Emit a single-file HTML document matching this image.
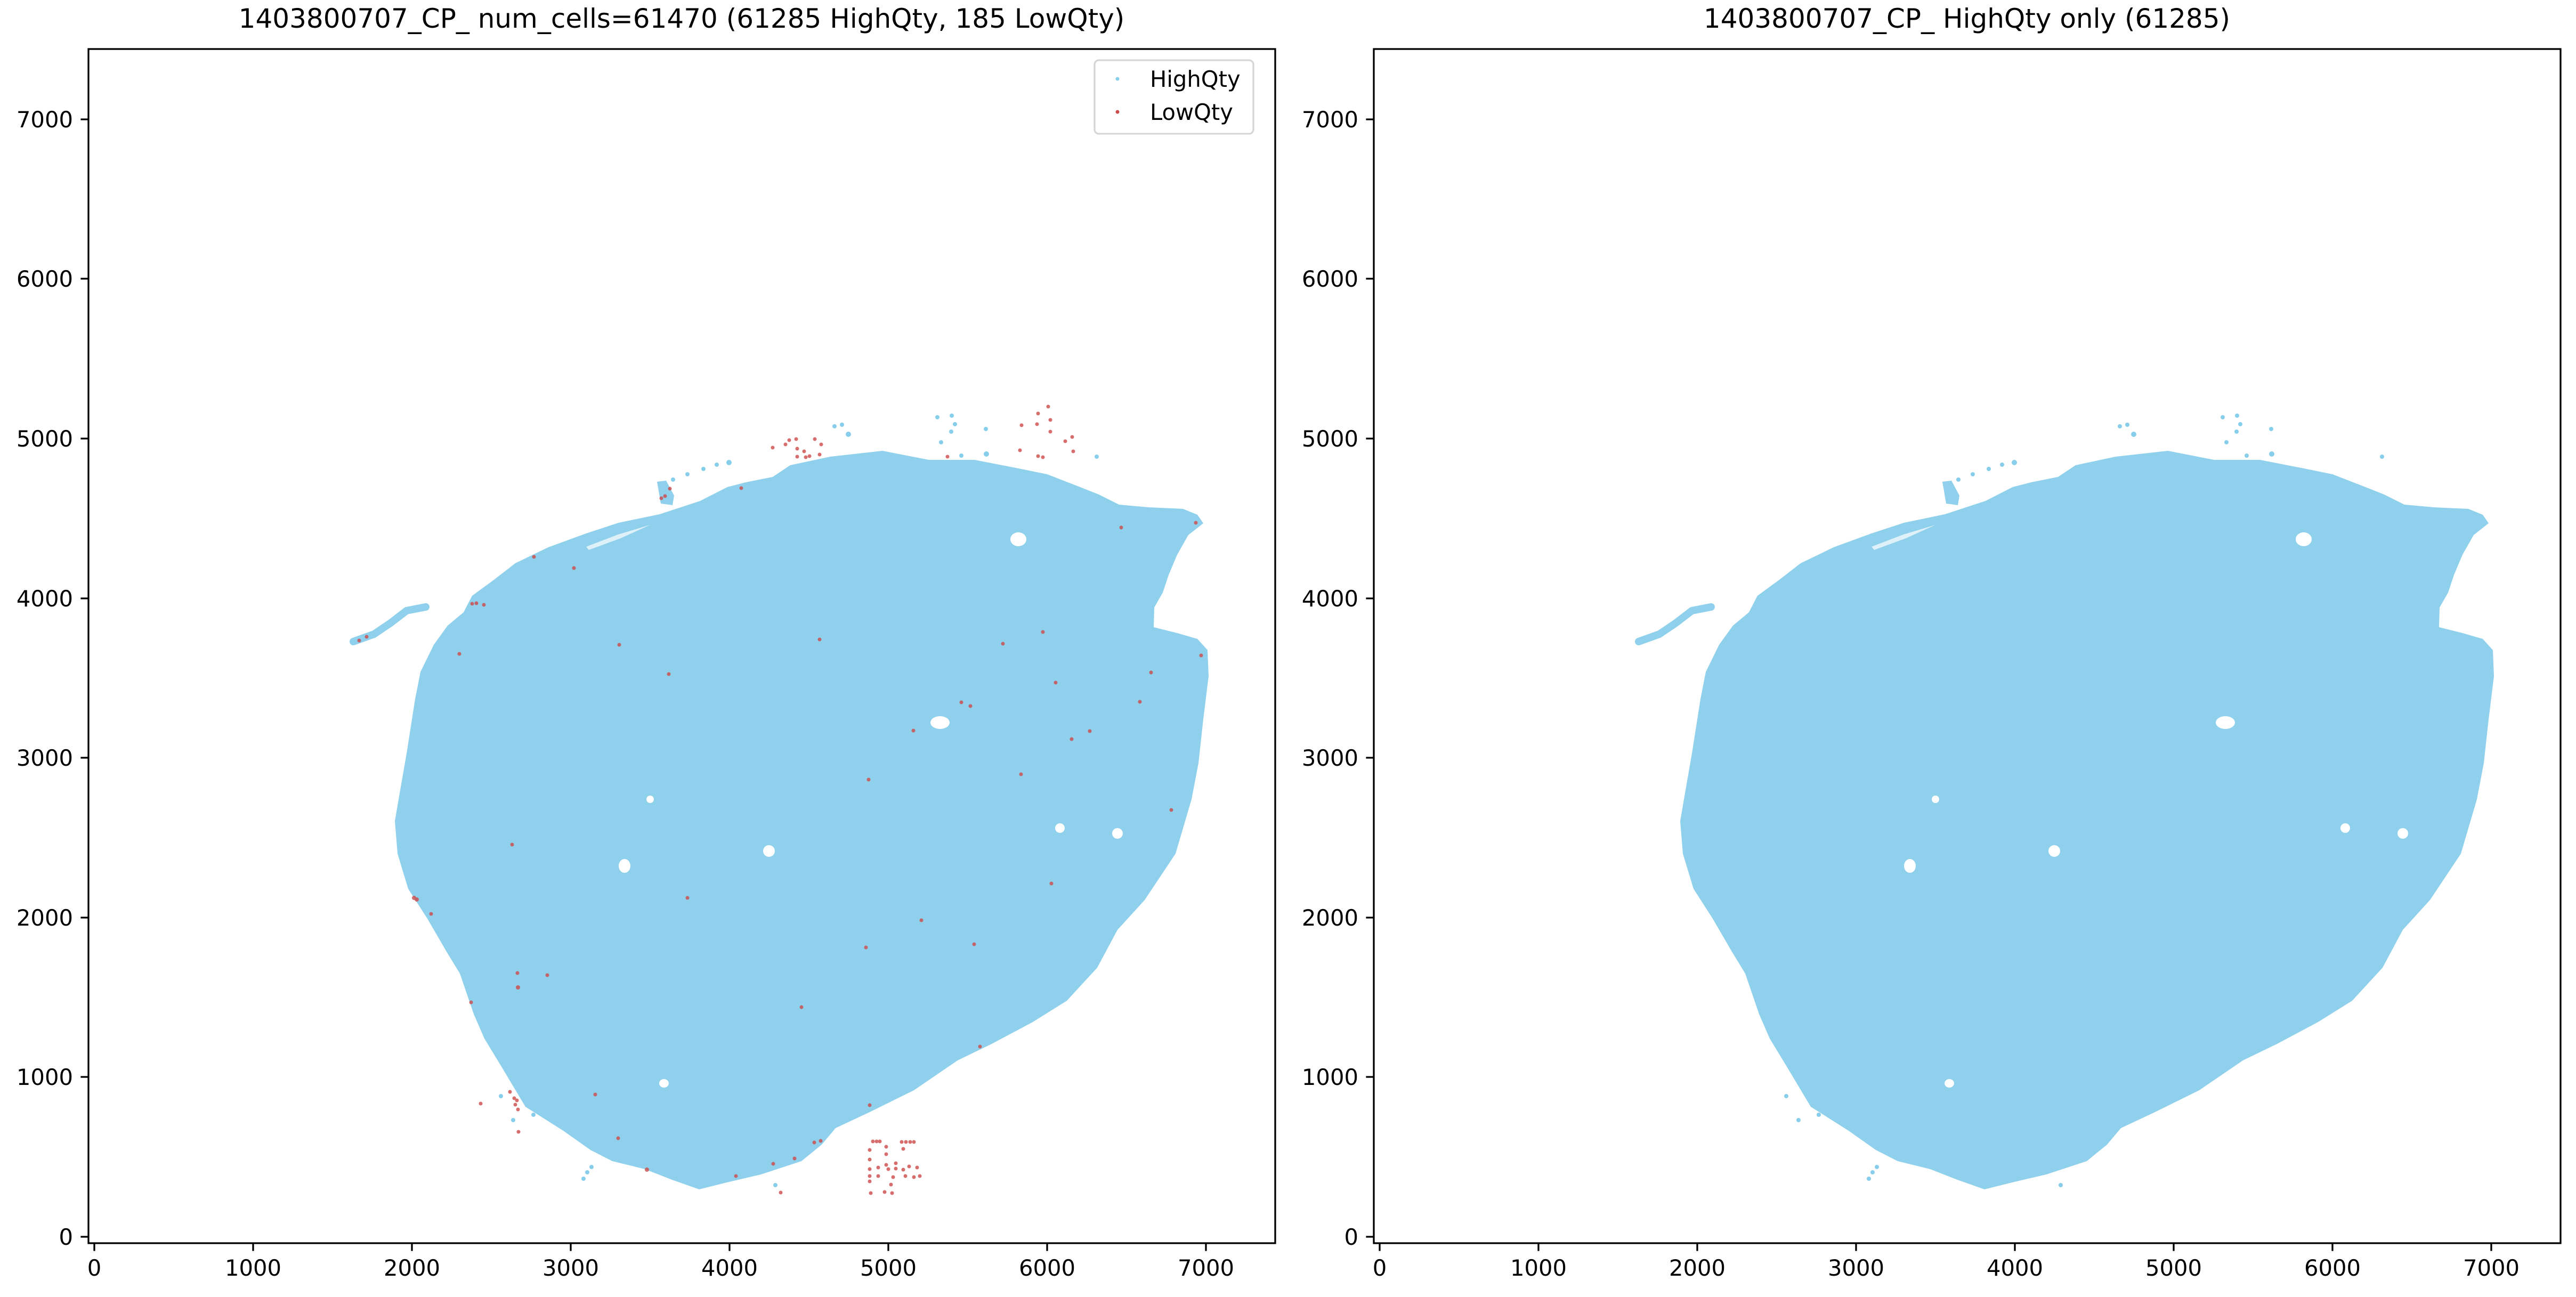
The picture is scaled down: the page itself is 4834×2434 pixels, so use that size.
<!DOCTYPE html>
<html><head><meta charset="utf-8"><style>
html,body{margin:0;padding:0;background:#fff}
svg{display:block}
text{font-family:"DejaVu Sans","Liberation Sans",sans-serif;fill:#000}
</style></head><body>
<svg width="4834" height="2434" viewBox="0 0 4834 2434" xmlns="http://www.w3.org/2000/svg">
<defs>
<g id="blob">
 <path fill="#8fd0ec" d="M748,1500 L763,1414 779,1312 789,1261 814,1210 840,1174 870,1149 886,1118 927,1088 967,1057 1029,1027 1100,1001 1161,981 1238,965 1314,940 1365,914 1400,905 1450,895 1483,873 1558,857 1656,846 1743,863 1829,863 1911,879 1965,890 2019,911 2062,928 2100,947 2155,952 2220,955 2247,966 2258,982 2230,1004 2209,1041 2193,1079 2182,1112 2166,1140 2165,1177 2209,1188 2247,1199 2266,1220 2268,1269 2258,1350 2249,1432 2236,1500 2206,1602 2148,1689 2097,1745 2059,1816 2002,1878 1938,1918 1861,1959 1797,1990 1715,2046 1632,2087 1568,2117 1542,2148 1504,2179 1428,2204 1364,2219 1312,2232 1261,2214 1210,2194 1149,2179 1108,2158 1057,2122 986,2077 940,2000 909,1949 889,1903 863,1827 838,1786 802,1724 766,1668 746,1602 741,1541 Z"/>
 <path fill="none" stroke="#8fd0ec" stroke-width="14" stroke-linecap="round" stroke-linejoin="round" d="M663,1204 L702,1190 733,1169 763,1146 799,1139"/>
 <path fill="#8fd0ec" d="M1233,904 L1250,902 1265,930 1262,948 1240,945 Z"/>
 <g fill="#fff">
  <path d="M1100,1026 L1160,1003 1220,985 1165,1010 1105,1032 Z" opacity="0.7"/>
  <ellipse cx="1911" cy="1012" rx="15" ry="13"/>
  <ellipse cx="1764" cy="1356" rx="18" ry="12"/>
  <ellipse cx="1443" cy="1597" rx="11" ry="11"/>
  <ellipse cx="2097" cy="1564" rx="10" ry="10"/>
  <ellipse cx="1989" cy="1554" rx="9" ry="9"/>
  <ellipse cx="1172" cy="1625" rx="11" ry="13"/>
  <ellipse cx="1246" cy="2033" rx="9" ry="8"/>
  <ellipse cx="1665" cy="2155" rx="8" ry="6"/>
  <ellipse cx="1220" cy="1500" rx="7" ry="7"/>
 </g>
 <g fill="#87ceeb">
  <circle cx="1263" cy="900" r="4"/><circle cx="1290" cy="890" r="4"/><circle cx="1320" cy="880" r="4"/><circle cx="1345" cy="872" r="4"/><circle cx="1368" cy="868" r="5"/>
  <circle cx="1566" cy="800" r="4"/><circle cx="1580" cy="797" r="4"/><circle cx="1592" cy="815" r="5"/>
  <circle cx="1759" cy="783" r="4"/><circle cx="1786" cy="780" r="4"/><circle cx="1792" cy="796" r="4"/><circle cx="1785" cy="810" r="4"/><circle cx="1766" cy="830" r="4"/><circle cx="1850" cy="805" r="4"/><circle cx="1851" cy="852" r="5"/><circle cx="1804" cy="855" r="4"/><circle cx="2058" cy="857" r="4"/>
  <circle cx="1095" cy="2212" r="4"/><circle cx="1102" cy="2200" r="4"/><circle cx="1110" cy="2190" r="4"/><circle cx="940" cy="2057" r="4"/><circle cx="963" cy="2102" r="4"/><circle cx="1001" cy="2092" r="4"/><circle cx="1455" cy="2224" r="4"/>
 </g>
</g>
</defs>

<text x="1279" y="52" font-size="50" text-anchor="middle">1403800707_CP_ num_cells=61470 (61285 HighQty, 185 LowQty)</text>
<text x="3691" y="52" font-size="50" text-anchor="middle">1403800707_CP_ HighQty only (61285)</text>

<use href="#blob"/>
<g fill="#cd4a4a" opacity="0.8">
 <circle cx="1002" cy="1045" r="3.5"/><circle cx="1077" cy="1066" r="3.5"/><circle cx="886" cy="1133" r="3.5"/><circle cx="894" cy="1132" r="3.5"/><circle cx="908" cy="1135" r="3.5"/><circle cx="688" cy="1195" r="3.5"/><circle cx="674" cy="1202" r="3.5"/><circle cx="862" cy="1227" r="3.5"/><circle cx="1162" cy="1210" r="3.5"/><circle cx="1255" cy="1265" r="3.5"/><circle cx="1241" cy="935" r="3.5"/><circle cx="1248" cy="931" r="3.5"/><circle cx="1257" cy="917" r="3.5"/><circle cx="1391" cy="916" r="3.5"/>
 <circle cx="1474" cy="834" r="3.5"/><circle cx="1481" cy="826" r="3.5"/><circle cx="1494" cy="824" r="3.5"/><circle cx="1496" cy="842" r="3.5"/><circle cx="1509" cy="847" r="3.5"/><circle cx="1496" cy="857" r="3.5"/><circle cx="1512" cy="858" r="3.5"/><circle cx="1519" cy="856" r="3.5"/><circle cx="1538" cy="853" r="3.5"/><circle cx="1529" cy="824" r="3.5"/><circle cx="1541" cy="834" r="3.5"/><circle cx="1450" cy="840" r="3.5"/><circle cx="1778" cy="857" r="3.5"/>
 <circle cx="1917" cy="798" r="3.5"/><circle cx="1948" cy="776" r="3.5"/><circle cx="1967" cy="763" r="3.5"/><circle cx="1946" cy="796" r="3.5"/><circle cx="1971" cy="788" r="3.5"/><circle cx="1971" cy="810" r="3.5"/><circle cx="1999" cy="828" r="3.5"/><circle cx="2012" cy="820" r="3.5"/><circle cx="2014" cy="847" r="3.5"/><circle cx="1914" cy="845" r="3.5"/><circle cx="1948" cy="856" r="3.5"/><circle cx="1957" cy="858" r="3.5"/>
 <circle cx="2104" cy="990" r="3.5"/><circle cx="2244" cy="981" r="3.5"/><circle cx="1538" cy="1200" r="3.5"/><circle cx="1882" cy="1208" r="3.5"/><circle cx="1957" cy="1186" r="3.5"/><circle cx="2254" cy="1230" r="3.5"/><circle cx="2160" cy="1262" r="3.5"/><circle cx="1981" cy="1281" r="3.5"/><circle cx="1804" cy="1318" r="3.5"/><circle cx="1821" cy="1325" r="3.5"/><circle cx="2139" cy="1317" r="3.5"/><circle cx="1714" cy="1371" r="3.5"/><circle cx="2045" cy="1372" r="3.5"/><circle cx="2011" cy="1387" r="3.5"/><circle cx="1916" cy="1453" r="3.5"/><circle cx="1630" cy="1463" r="3.5"/><circle cx="2198" cy="1520" r="3.5"/>
 <circle cx="1973" cy="1658" r="3.5"/><circle cx="1729" cy="1727" r="3.5"/><circle cx="1625" cy="1778" r="3.5"/><circle cx="1828" cy="1772" r="3.5"/><circle cx="1504" cy="1890" r="3.5"/><circle cx="1839" cy="1964" r="3.5"/><circle cx="1632" cy="2074" r="3.5"/><circle cx="1528" cy="2144" r="3.5"/><circle cx="1540" cy="2141" r="3.5"/><circle cx="1491" cy="2174" r="3.5"/><circle cx="1451" cy="2184" r="3.5"/><circle cx="1381" cy="2207" r="3.5"/><circle cx="1465" cy="2238" r="3.5"/>
 <circle cx="1638" cy="2142" r="3.5"/><circle cx="1645" cy="2142" r="3.5"/><circle cx="1651" cy="2142" r="3.5"/><circle cx="1692" cy="2143" r="3.5"/><circle cx="1700" cy="2143" r="3.5"/><circle cx="1708" cy="2143" r="3.5"/><circle cx="1715" cy="2143" r="3.5"/><circle cx="1695" cy="2156" r="3.5"/><circle cx="1663" cy="2152" r="3.5"/><circle cx="1663" cy="2166" r="3.5"/><circle cx="1632" cy="2158" r="3.5"/><circle cx="1632" cy="2176" r="3.5"/><circle cx="1632" cy="2194" r="3.5"/><circle cx="1632" cy="2207" r="3.5"/><circle cx="1632" cy="2217" r="3.5"/><circle cx="1648" cy="2191" r="3.5"/><circle cx="1648" cy="2207" r="3.5"/><circle cx="1663" cy="2186" r="3.5"/><circle cx="1667" cy="2194" r="3.5"/><circle cx="1681" cy="2183" r="3.5"/><circle cx="1681" cy="2193" r="3.5"/><circle cx="1676" cy="2209" r="3.5"/><circle cx="1672" cy="2223" r="3.5"/><circle cx="1695" cy="2195" r="3.5"/><circle cx="1706" cy="2189" r="3.5"/><circle cx="1721" cy="2191" r="3.5"/><circle cx="1726" cy="2207" r="3.5"/><circle cx="1715" cy="2209" r="3.5"/><circle cx="1699" cy="2207" r="3.5"/><circle cx="1634" cy="2239" r="3.5"/><circle cx="1660" cy="2237" r="3.5"/><circle cx="1674" cy="2239" r="3.5"/>
 <circle cx="961" cy="1585" r="3.5"/><circle cx="777" cy="1685" r="4"/><circle cx="782" cy="1688" r="4"/><circle cx="809" cy="1715" r="3.5"/><circle cx="971" cy="1826" r="3.5"/><circle cx="1027" cy="1830" r="3.5"/><circle cx="972" cy="1853" r="4"/><circle cx="884" cy="1881" r="3.5"/><circle cx="1290" cy="1685" r="3.5"/><circle cx="1117" cy="2054" r="3.5"/><circle cx="957" cy="2049" r="3.5"/><circle cx="965" cy="2061" r="3.5"/><circle cx="970" cy="2065" r="3.5"/><circle cx="967" cy="2073" r="3.5"/><circle cx="972" cy="2082" r="3.5"/><circle cx="902" cy="2071" r="3.5"/><circle cx="973" cy="2124" r="3.5"/><circle cx="1160" cy="2136" r="3.5"/><circle cx="1214" cy="2195" r="4"/>
</g>

<use href="#blob" transform="translate(2412,0)"/>

<g fill="none" stroke="#000" stroke-width="3.3">
 <rect x="166" y="92" width="2227" height="2241"/>
 <rect x="2578" y="92" width="2227" height="2241"/>
</g>

<g stroke="#000" stroke-width="3.3">
 <path d="M177,2333v14.6 M475,2333v14.6 M773,2333v14.6 M1071,2333v14.6 M1369,2333v14.6 M1667,2333v14.6 M1965,2333v14.6 M2263,2333v14.6"/>
 <path d="M166,2321h-14.6 M166,2021h-14.6 M166,1722h-14.6 M166,1422h-14.6 M166,1123h-14.6 M166,823h-14.6 M166,523h-14.6 M166,224h-14.6"/>
 <path d="M2589,2333v14.6 M2887,2333v14.6 M3185,2333v14.6 M3483,2333v14.6 M3781,2333v14.6 M4079,2333v14.6 M4377,2333v14.6 M4675,2333v14.6"/>
 <path d="M2578,2321h-14.6 M2578,2021h-14.6 M2578,1722h-14.6 M2578,1422h-14.6 M2578,1123h-14.6 M2578,823h-14.6 M2578,523h-14.6 M2578,224h-14.6"/>
</g>

<g font-size="41.7" text-anchor="middle">
 <text x="177" y="2394">0</text><text x="475" y="2394">1000</text><text x="773" y="2394">2000</text><text x="1071" y="2394">3000</text><text x="1369" y="2394">4000</text><text x="1667" y="2394">5000</text><text x="1965" y="2394">6000</text><text x="2263" y="2394">7000</text>
 <text x="2589" y="2394">0</text><text x="2887" y="2394">1000</text><text x="3185" y="2394">2000</text><text x="3483" y="2394">3000</text><text x="3781" y="2394">4000</text><text x="4079" y="2394">5000</text><text x="4377" y="2394">6000</text><text x="4675" y="2394">7000</text>
</g>
<g font-size="41.7" text-anchor="end">
 <text x="137" y="2336">0</text><text x="137" y="2036">1000</text><text x="137" y="1737">2000</text><text x="137" y="1437">3000</text><text x="137" y="1138">4000</text><text x="137" y="838">5000</text><text x="137" y="538">6000</text><text x="137" y="239">7000</text>
 <text x="2549" y="2336">0</text><text x="2549" y="2036">1000</text><text x="2549" y="1737">2000</text><text x="2549" y="1437">3000</text><text x="2549" y="1138">4000</text><text x="2549" y="838">5000</text><text x="2549" y="538">6000</text><text x="2549" y="239">7000</text>
</g>

<rect x="2054" y="113" width="298" height="138" rx="8" fill="#fff" stroke="#d6d6d6" stroke-width="3.3"/>
<circle cx="2097" cy="148" r="3.5" fill="#87ceeb"/>
<circle cx="2097" cy="210" r="3.5" fill="#cd4a4a"/>
<text x="2158" y="163" font-size="41.7">HighQty</text>
<text x="2158" y="225" font-size="41.7">LowQty</text>
</svg>
</body></html>
